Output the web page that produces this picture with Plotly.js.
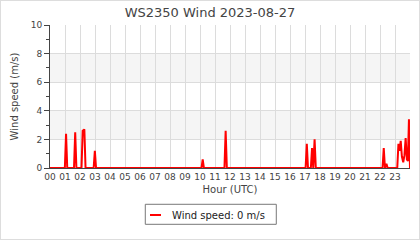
<!DOCTYPE html>
<html>
<head>
<meta charset="utf-8">
<script src="https://cdn.plot.ly/plotly-3.0.1.min.js"></script>
<style>
  html, body { margin: 0; padding: 0; background: #fff; }
  #wrap { position: relative; width: 420px; height: 240px; }
  #chart { width: 420px; height: 240px; }
  #frame { position: absolute; left: 0; top: 0; width: 420px; height: 240px; box-sizing: border-box; border: 1px solid #ddd; pointer-events: none; }
</style>
</head>
<body>
<div id="wrap"><div id="chart"></div><div id="frame"></div></div>
<script>
// Hours (UTC, decimal) and wind speed (m/s)
const hours = [0, 0.99, 1.07, 1.15, 1.60, 1.68, 1.76, 2.10, 2.18, 2.29, 2.37, 2.91, 2.99, 3.07,
  10.10, 10.18, 10.26, 11.63, 11.71, 11.79,
  17.04, 17.12, 17.20, 17.39, 17.47, 17.55, 17.64, 17.72,
  22.17, 22.25, 22.33, 22.43, 22.51,
  23.15, 23.23, 23.31, 23.38, 23.46, 23.55, 23.63, 23.71, 23.79, 23.86, 23.93, 24.0];
const windSpeed = [0, 0, 2.4, 0, 0, 2.5, 0, 0, 2.6, 2.7, 0, 0, 1.2, 0,
  0, 0.6, 0, 0, 2.6, 0,
  0, 1.7, 0, 0, 1.4, 0, 2.0, 0,
  0, 1.4, 0, 0.3, 0,
  0, 1.7, 1.2, 1.9, 0.8, 0.4, 0.9, 2.1, 0.6, 0.5, 3.4, 0];
const hourTicks = [0,1,2,3,4,5,6,7,8,9,10,11,12,13,14,15,16,17,18,19,20,21,22,23];
const hourLabels = ["00","01","02","03","04","05","06","07","08","09","10","11","12","13","14","15","16","17","18","19","20","21","22","23"];
const seriesName = "Wind speed: 0 m/s";
const chartTitle = "WS2350 Wind 2023-08-27";
const bands = [[2, 4], [6, 8]];

const font = "DejaVu Sans, sans-serif";
const trace = {
  x: hours, y: windSpeed, type: "scatter", mode: "lines", name: seriesName,
  line: { color: "#ff0000", width: 2 }, showlegend: false
};
const bandShapes = bands.map(b => ({ type: "rect", xref: "paper", yref: "y", x0: 0, x1: 1, y0: b[0], y1: b[1], fillcolor: "#f5f5f5", line: { width: 0 }, layer: "below" }));
// legend box drawn below the plot
const legendShapes = [
  { type: "rect", xref: "paper", yref: "paper", x0: 0.2647, x1: 0.6286, y0: -0.3937, y1: -0.2538, fillcolor: "#fff", line: { color: "#777", width: 1 } },
  { type: "line", xref: "paper", yref: "paper", x0: 0.2778, x1: 0.3083, y0: -0.3287, y1: -0.3287, line: { color: "#ff0000", width: 2 } }
];
const layout = {
  width: 420, height: 240,
  margin: { l: 50, r: 10, t: 25, b: 72 },
  paper_bgcolor: "rgba(0,0,0,0)", plot_bgcolor: "#fff",
  font: { family: font, size: 9, color: "#444" },
  title: { text: chartTitle, font: { family: font, size: 13, color: "#444" }, x: 0.5, xanchor: "center", y: 0.95, yanchor: "middle", automargin: false },
  xaxis: {
    range: [0, 24], tickvals: hourTicks, ticktext: hourLabels, ticks: "",
    showgrid: true, gridcolor: "#dcdcdc", gridwidth: 1, zeroline: false,
    showline: true, linecolor: "#444", linewidth: 1, mirror: false, automargin: false,
    tickfont: { family: font, size: 9, color: "#444" },
    title: { text: "Hour (UTC)", font: { family: font, size: 10, color: "#444" }, standoff: 5 },
    fixedrange: true
  },
  yaxis: {
    range: [0, 10], dtick: 2, tick0: 0, ticks: "outside", ticklen: 5, tickcolor: "#444",
    minor: { dtick: 1, ticks: "outside", ticklen: 3, tickcolor: "#444", showgrid: false },
    showgrid: true, gridcolor: "#dcdcdc", gridwidth: 1, zeroline: false,
    showline: true, linecolor: "#444", linewidth: 1, automargin: false,
    tickfont: { family: font, size: 9, color: "#444" },
    title: { text: "Wind speed (m/s)", font: { family: font, size: 10, color: "#444" }, standoff: 10 },
    fixedrange: true
  },
  shapes: bandShapes.concat(legendShapes),
  annotations: [
    { xref: "paper", yref: "paper", x: 0.3333, y: -0.3287, xanchor: "left", yanchor: "middle", text: seriesName, showarrow: false, font: { family: font, size: 10, color: "#222" } }
  ],
  showlegend: false
};
Plotly.newPlot("chart", [trace], layout, { staticPlot: true, displayModeBar: false });
</script>
</body>
</html>
